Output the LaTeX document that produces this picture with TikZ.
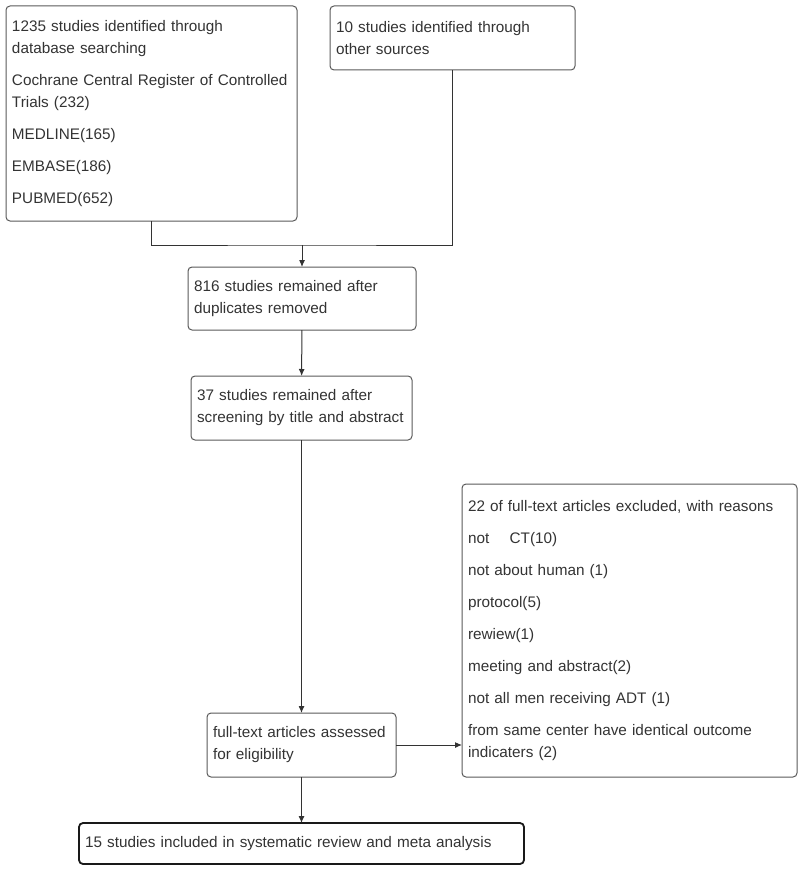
\documentclass[tikz,border=0pt]{standalone}
\usepackage{fontspec}
\setmainfont{Liberation Sans}
\usetikzlibrary{arrows.meta, positioning}

\begin{document}
\begin{tikzpicture}[
  x=1pt, y=-1pt,
  box/.style={draw=black!65, rounded corners=4pt, line width=1pt, anchor=north west,
    align=left, inner xsep=6pt, text=black!80, outer sep=0pt,
    font=\fontsize{15.3}{22}\selectfont},
  finalbox/.style={box, draw=black!90, line width=1.8pt},
  arrow/.style={-{Latex[length=7pt, width=6pt]}, black!80, line width=1pt},
  link/.style={black!80, line width=1pt},
]
\useasboundingbox (0,0) rectangle (800,869);

% Nodes
\node[box, minimum width=291, minimum height=215, text width=279] (db) at (6,6)
  {1235 studies identified through\\ database searching\\[10pt]
   Cochrane Central Register of Controlled\\ Trials (232)\\[10pt]
   MEDLINE(165)\\[10pt] EMBASE(186)\\[10pt] PUBMED(652)};
\node[box, minimum width=245, minimum height=64, text width=233] (other) at (330,6)
  {10 studies identified through\\ other sources};
\node[box, minimum width=228, minimum height=63, text width=216] (dedup) at (188,267)
  {816 studies remained after\\ duplicates removed};
\node[box, minimum width=221, minimum height=64, text width=209] (screen) at (191,376)
  {37 studies remained after\\ screening by title and abstract};
\node[box, minimum width=189, minimum height=64, text width=177] (fulltext) at (207,713)
  {full-text articles assessed\\ for eligibility};
\node[box, minimum width=335, minimum height=293, text width=323] (excluded) at (462,484)
  {22 of full-text articles excluded, with reasons\\[10pt]
   not\ \ \ \ CT(10)\\[10pt] not about human (1)\\[10pt] protocol(5)\\[10pt]
   rewiew(1)\\[10pt] meeting and abstract(2)\\[10pt]
   not all men receiving ADT (1)\\[10pt]
   from same center have identical outcome\\ indicaters (2)};
\node[finalbox, minimum width=445, minimum height=41, text width=433] (included) at (79,823)
  {15 studies included in systematic review and meta analysis};
\coordinate (join) at (302,245);

% Arrows
\draw[link] (db.south) |- (join) -| (other.south);
\draw[arrow] (join) -- (dedup);
\draw[arrow] (dedup) -- (screen);
\draw[arrow] (screen) -- (fulltext);
\draw[arrow] (fulltext.east) -- (excluded.west |- fulltext.east);
\draw[arrow] (fulltext.south) -- (fulltext.south |- included.north);

\end{tikzpicture}
\end{document}
